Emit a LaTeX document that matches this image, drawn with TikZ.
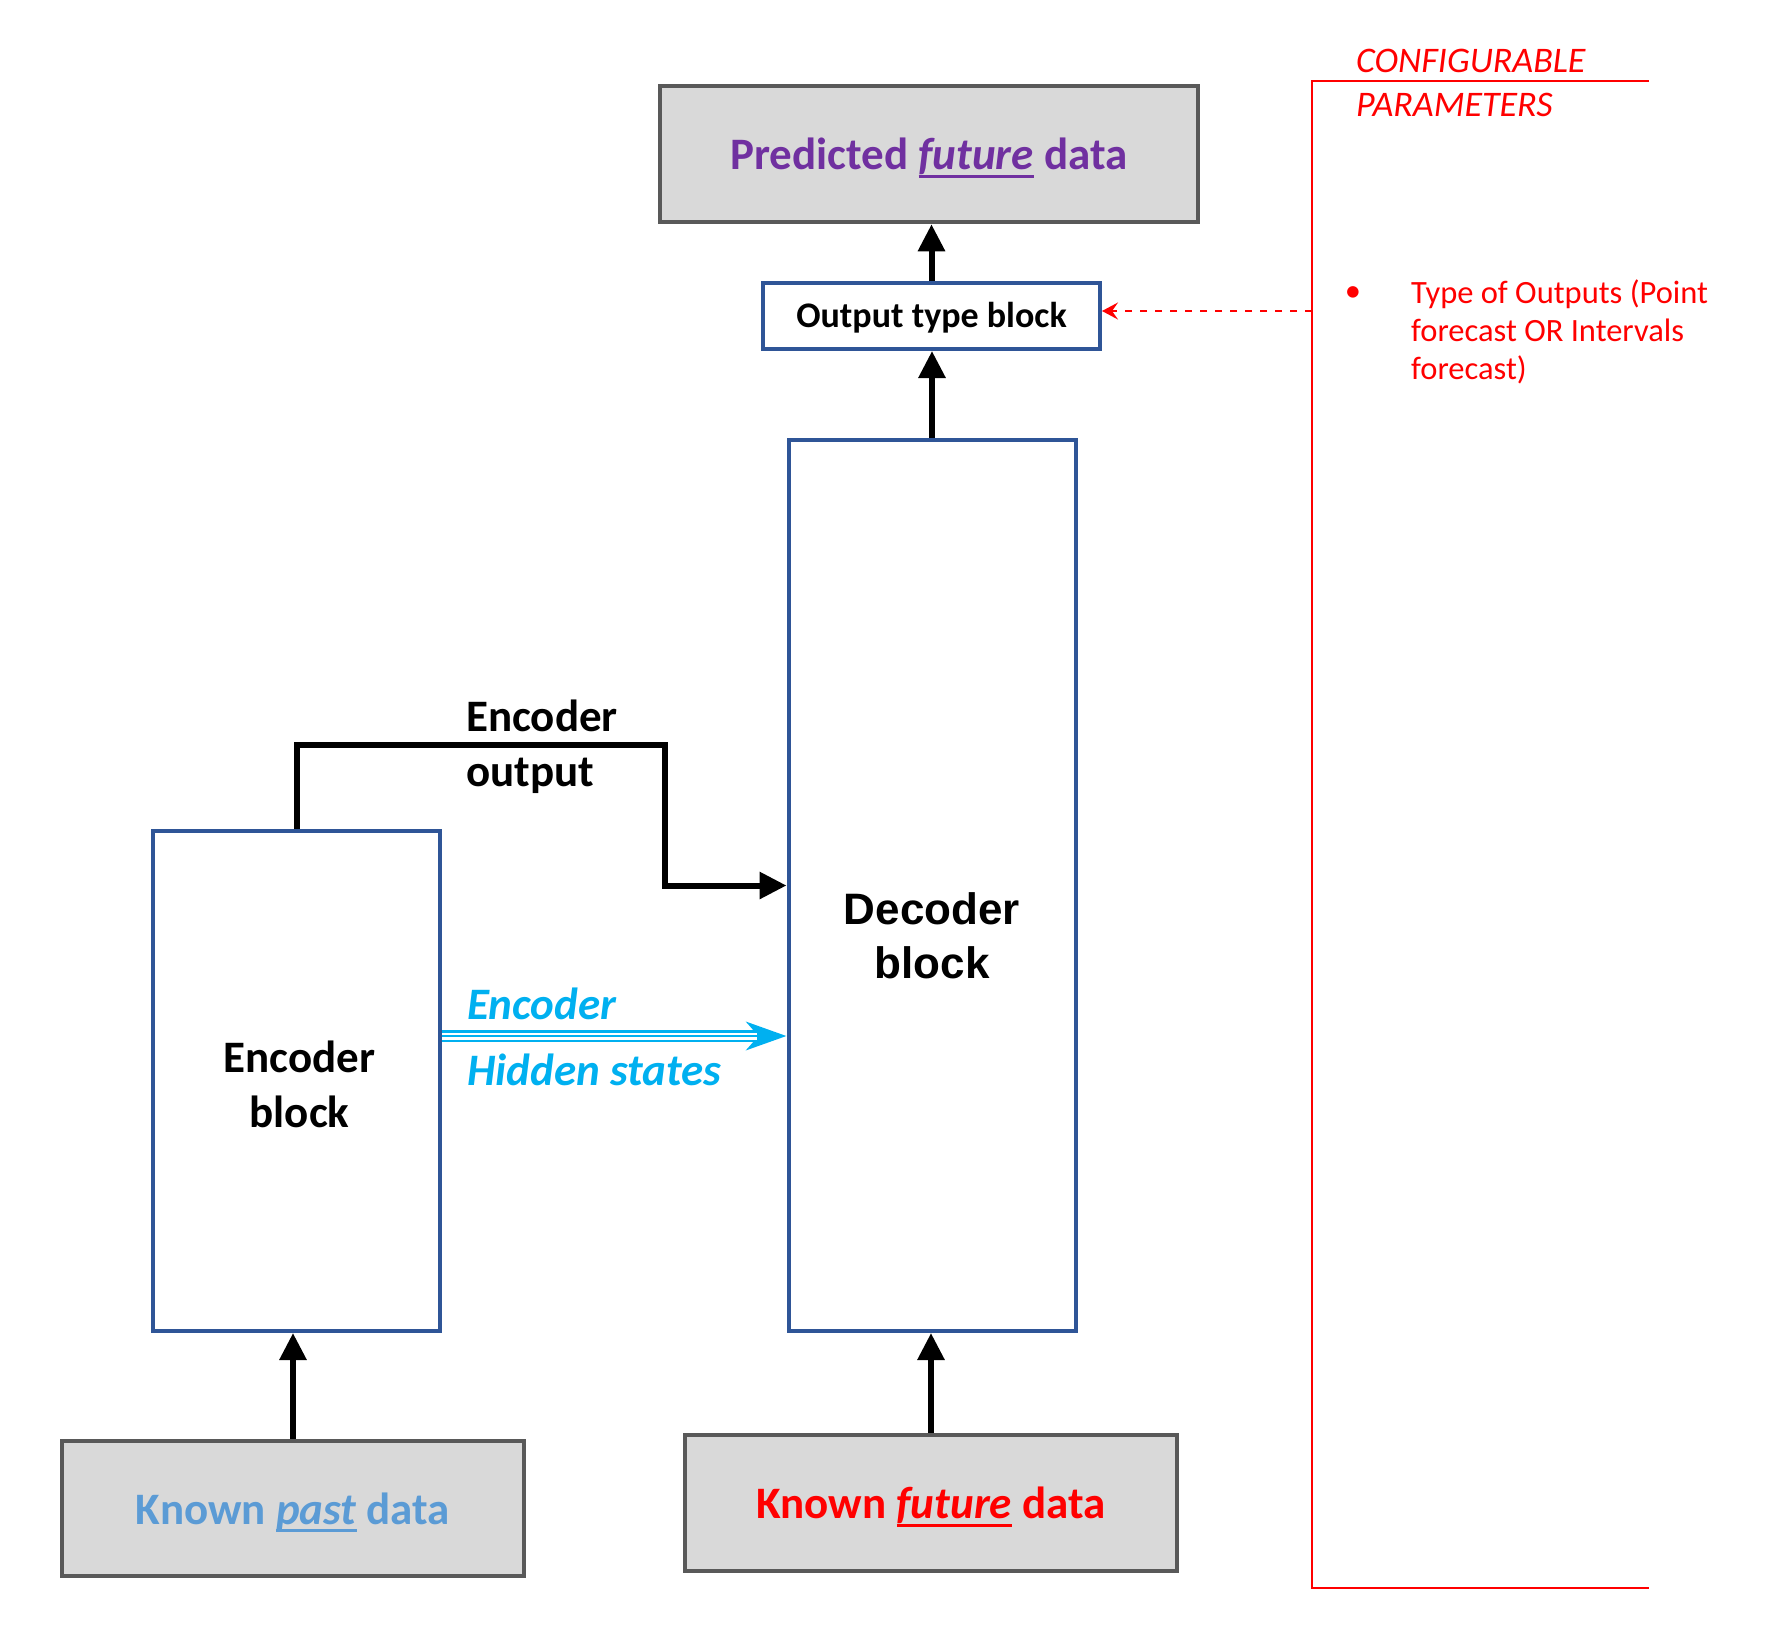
\documentclass[tikz,border=0pt]{standalone}
\usepackage{fontspec}
\setmainfont{Carlito}
\newfontfamily\arialfont{Liberation Sans}
\usetikzlibrary{arrows.meta}
\definecolor{boxblue}{HTML}{2F5597}
\definecolor{boxgray}{HTML}{D9D9D9}
\definecolor{edgegray}{HTML}{595959}
\definecolor{purp}{HTML}{7030A0}
\definecolor{lblue}{HTML}{5B9BD5}
\definecolor{cyanhs}{HTML}{00B0F0}
\definecolor{redc}{HTML}{FF0000}
\newcommand\ulword[1]{\setbox0\hbox{#1}\rlap{\rule[-0.18em]{\wd0}{0.06em}}\box0\relax}
\begin{document}
\begin{tikzpicture}[x=1pt,y=-1pt,
  bluebox/.style={draw=boxblue, line width=4pt, fill=white, inner sep=0pt},
  graybox/.style={draw=edgegray, line width=4.5pt, fill=boxgray, inner sep=0pt, text height=31pt, text depth=0pt},
  bigtxt/.style={font=\fontsize{45}{55}\selectfont\bfseries},
  flow/.style={line width=6pt, -{Triangle[length=27pt,width=26pt]}},
]
\useasboundingbox (0,0) rectangle (1781,1631);
\fill[white] (0,0) rectangle (1781,1631);

% boxes
\node[graybox, minimum width=538pt, minimum height=136pt, bigtxt, text=purp] (pred) at (929,154) {Predicted \ulword{\itshape future} data};
\node[bluebox, minimum width=337pt, minimum height=66pt, font=\fontsize{36}{44}\selectfont\bfseries, text height=22pt, text depth=0pt] (out) at (931.5,316) {Output type block};
\node[bluebox, minimum width=287pt, minimum height=891pt] (dec) at (932,885.5) {};
\node[font=\arialfont\bfseries\fontsize{44}{54}\selectfont, align=center, inner sep=0pt] (dect) at (932,936) {Decoder\\block};
\node[bluebox, minimum width=287pt, minimum height=500pt] (enc) at (296.5,1081) {};
\node[bigtxt, align=center, inner sep=0pt] (enct) at (299.5,1084) {Encoder\\block};
\node[graybox, minimum width=462pt, minimum height=135pt, bigtxt, text=lblue] (past) at (293,1508.5) {Known \ulword{\itshape past} data};
\node[graybox, minimum width=492pt, minimum height=136pt, bigtxt, text=redc] (fut) at (931,1503) {Known \ulword{\itshape future} data};

% vertical flows
\draw[flow] (past.north) -- (past.north |- enc.south);
\draw[flow] (fut.north) -- (fut.north |- dec.south);
\draw[flow] (dec.north) -- (dec.north |- out.south);
\draw[flow] (out.north) -- (out.north |- pred.south);

% encoder output
\coordinate (eoc) at (665,745);
\draw[flow, line join=miter] (enc.north) |- (eoc) |- (dec.west);
\node[bigtxt, align=left, anchor=north west, inner sep=0pt] (eolab) at (466,700) {Encoder\\output};

% hidden states
\coordinate (hsy) at (0,1036);
\draw[cyanhs, line width=12pt, -{Stealth[length=40pt,width=28pt,inset=12pt]}] (enc.east |- hsy) -- (dec.west |- hsy);
\draw[white, line width=7pt, shorten >=30pt] (enc.east |- hsy) -- (dec.west |- hsy);
\draw[cyanhs, line width=2.5pt, shorten >=30pt] (enc.east |- hsy) -- (dec.west |- hsy);
\node[font=\fontsize{45}{55}\selectfont\bfseries\itshape, text=cyanhs, align=left, anchor=north west, inner sep=0pt] (hslab) at (467,988) {Encoder\\[11pt]Hidden states};

% configurable parameters panel
\draw[redc, line width=1.8pt] (1649,81) -| (1312,1588) -- (1649,1588);
\node[text=redc, font=\fontsize{36}{44}\selectfont\itshape, align=left, anchor=north west, inner sep=0pt] (cfg) at (1356,49) {CONFIGURABLE\\PARAMETERS};
\node[text=redc, font=\fontsize{32.5}{38}\selectfont, inner sep=0pt] (bul) at (1353,294) {•};
\node[text=redc, font=\fontsize{32.5}{38}\selectfont, align=left, anchor=north west, inner sep=0pt] (typ) at (1411,280) {Type of Outputs (Point\\forecast OR Intervals\\forecast)};
\coordinate (dsrc) at (1312,311);
\draw[redc, line width=1.8pt, dash pattern=on 7pt off 8pt, -{Stealth[length=16pt,width=17pt,inset=6pt]}] (dsrc) -- (out.east |- dsrc);
\end{tikzpicture}
\end{document}
